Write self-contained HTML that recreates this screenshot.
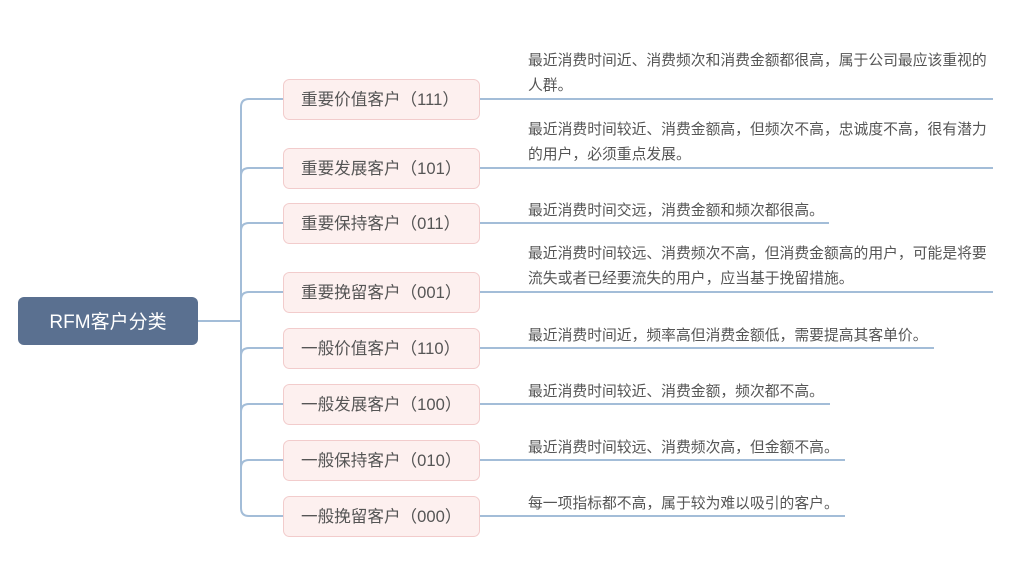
<!DOCTYPE html>
<html><head><meta charset="utf-8"><style>
html,body{margin:0;padding:0;background:#fff;width:1024px;height:580px;overflow:hidden}
svg text{font-family:"Liberation Sans","Noto Sans CJK SC",sans-serif}
</style></head><body>
<svg width="1024" height="580" xmlns="http://www.w3.org/2000/svg">
<g fill="none" stroke="#a3bdd8" stroke-width="2">
<path d="M198 321 H241"/>
<path d="M283 99 H249 Q241 99 241 107 V508 Q241 516 249 516 H283"/>
<path d="M241 176 Q241 168 249 168 H283"/>
<path d="M241 231 Q241 223 249 223 H283"/>
<path d="M241 300 Q241 292 249 292 H283"/>
<path d="M241 356 Q241 348 249 348 H283"/>
<path d="M241 412 Q241 404 249 404 H283"/>
<path d="M241 468 Q241 460 249 460 H283"/>
<path d="M479 99 H993"/>
<path d="M479 168 H993"/>
<path d="M479 223 H829"/>
<path d="M479 292 H993"/>
<path d="M479 348 H934"/>
<path d="M479 404 H830"/>
<path d="M479 460 H845"/>
<path d="M479 516 H845"/>
</g>
<rect x="18" y="297" width="180" height="48" rx="6" fill="#5a7090"/>
<text x="108" y="328" font-size="19" fill="#fff" text-anchor="middle">RFM客户分类</text>
<g fill="#fdf0ef" stroke="#f2cccc" stroke-width="1">
<rect x="283.5" y="79.5" width="196" height="40" rx="6"/>
<rect x="283.5" y="148.5" width="196" height="40" rx="6"/>
<rect x="283.5" y="203.5" width="196" height="40" rx="6"/>
<rect x="283.5" y="272.5" width="196" height="40" rx="6"/>
<rect x="283.5" y="328.5" width="196" height="40" rx="6"/>
<rect x="283.5" y="384.5" width="196" height="40" rx="6"/>
<rect x="283.5" y="440.5" width="196" height="40" rx="6"/>
<rect x="283.5" y="496.5" width="196" height="40" rx="6"/>
</g>
<g font-size="16.6" fill="#555">
<text x="301" y="105">重要价值客户（111）</text>
<text x="301" y="174">重要发展客户（101）</text>
<text x="301" y="229">重要保持客户（011）</text>
<text x="301" y="298">重要挽留客户（001）</text>
<text x="301" y="354">一般价值客户（110）</text>
<text x="301" y="410">一般发展客户（100）</text>
<text x="301" y="466">一般保持客户（010）</text>
<text x="301" y="522">一般挽留客户（000）</text>
</g>
<g font-size="14.8" fill="#555">
<text x="528" y="65">最近消费时间近、消费频次和消费金额都很高，属于公司最应该重视的</text>
<text x="528" y="90">人群。</text>
<text x="528" y="134">最近消费时间较近、消费金额高，但频次不高，忠诚度不高，很有潜力</text>
<text x="528" y="159">的用户，必须重点发展。</text>
<text x="528" y="215">最近消费时间交远，消费金额和频次都很高。</text>
<text x="528" y="258">最近消费时间较远、消费频次不高，但消费金额高的用户，可能是将要</text>
<text x="528" y="283">流失或者已经要流失的用户，应当基于挽留措施。</text>
<text x="528" y="340">最近消费时间近，频率高但消费金额低，需要提高其客单价。</text>
<text x="528" y="396">最近消费时间较近、消费金额，频次都不高。</text>
<text x="528" y="452">最近消费时间较远、消费频次高，但金额不高。</text>
<text x="528" y="508">每一项指标都不高，属于较为难以吸引的客户。</text>
</g>
</svg>
</body></html>
